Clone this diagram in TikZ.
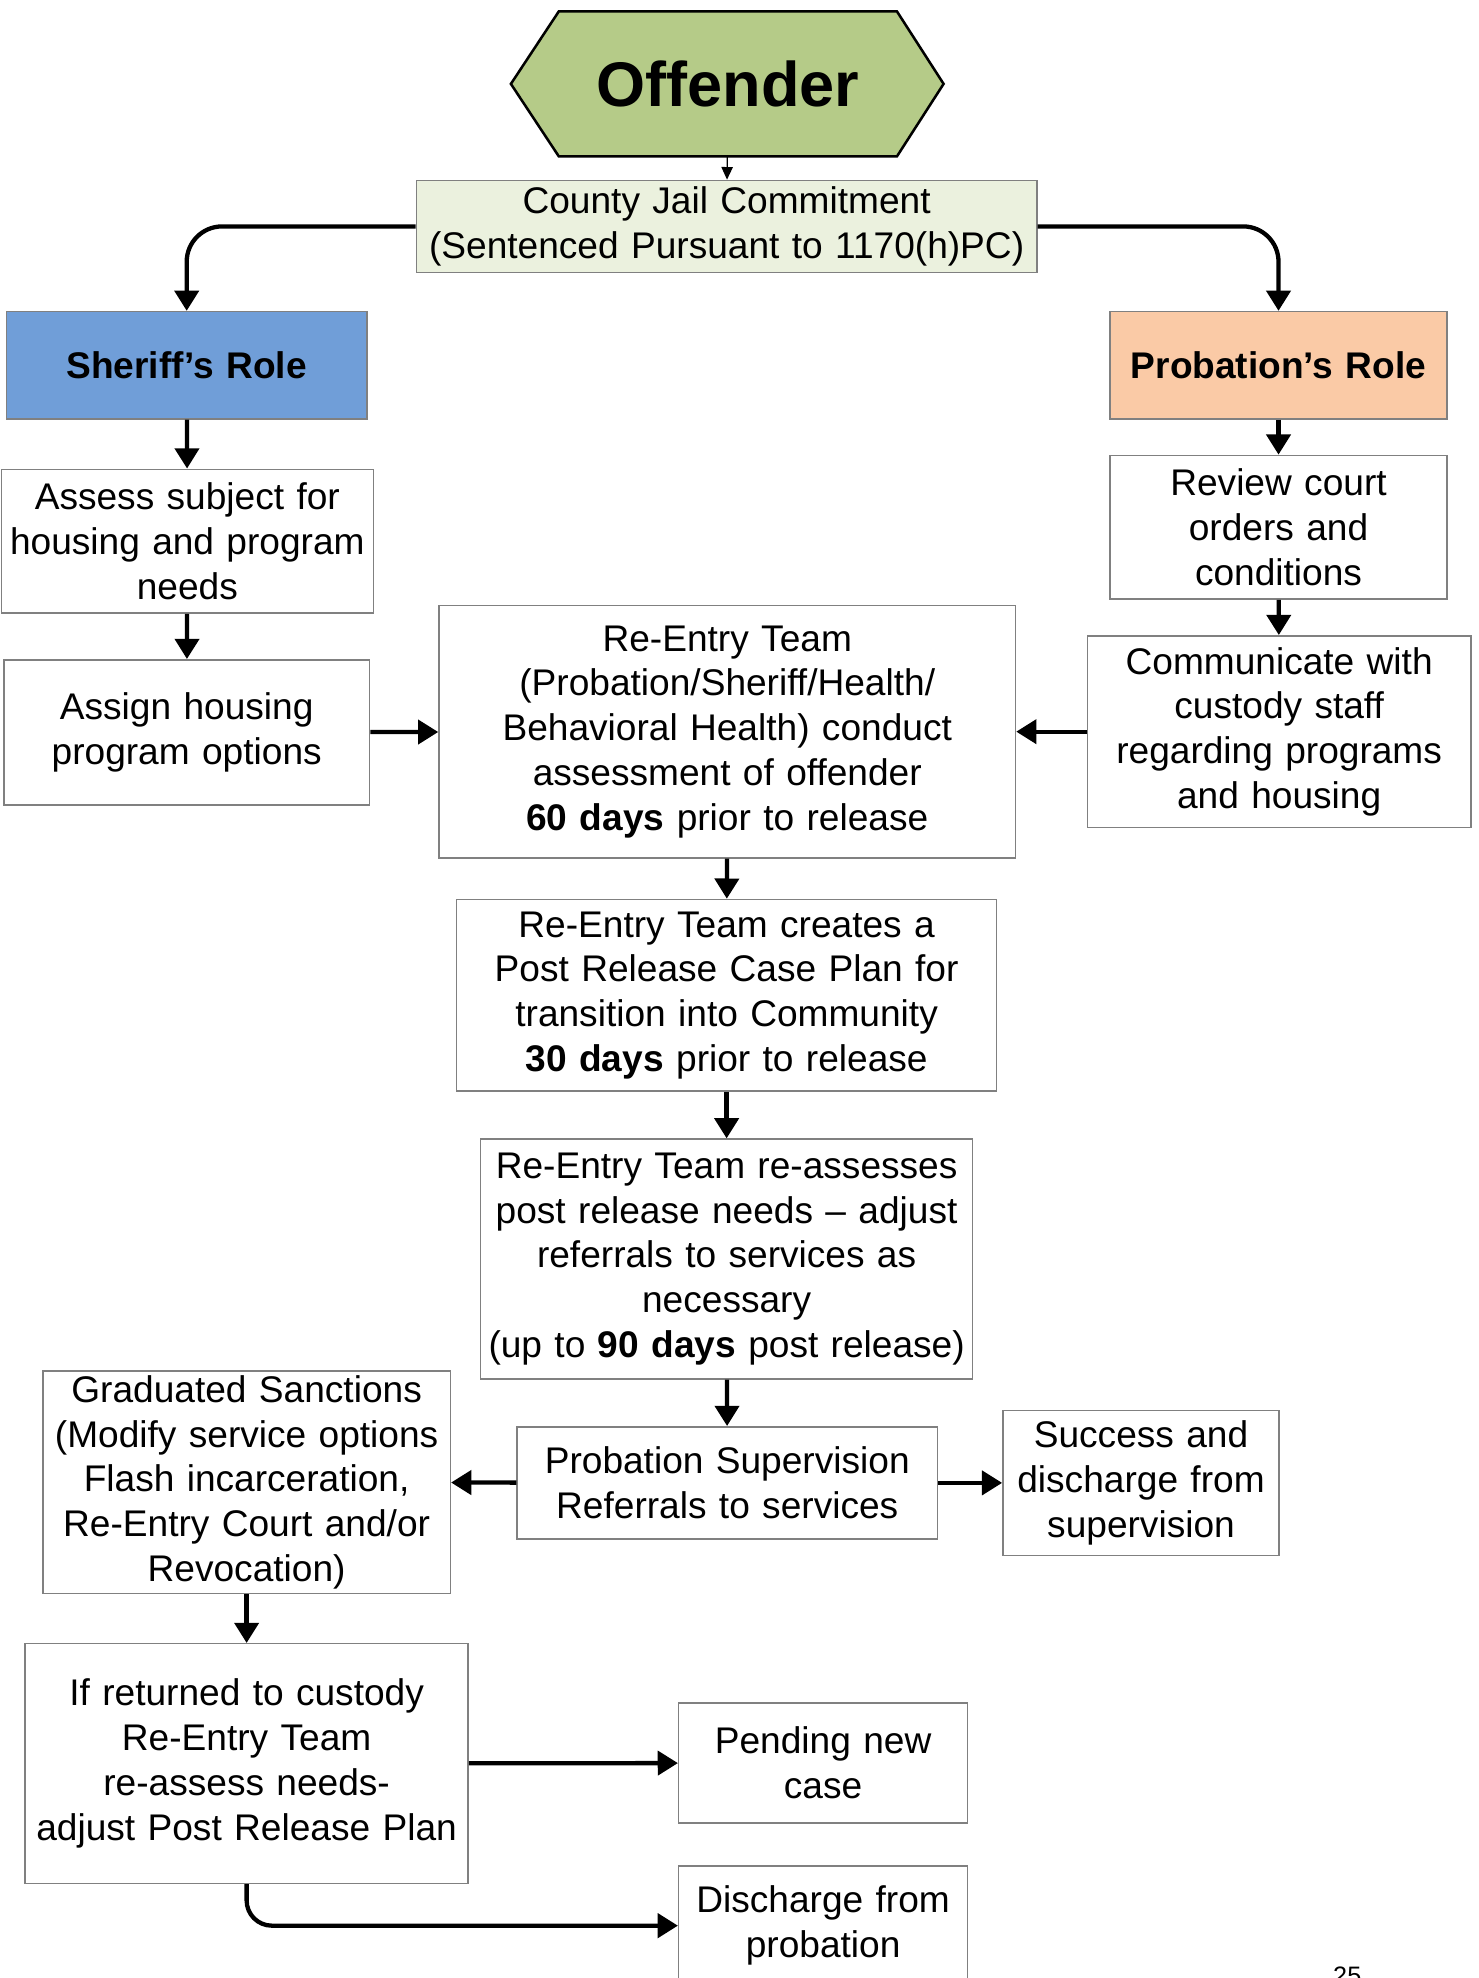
\documentclass[tikz,border=0pt]{standalone}
\usepackage{fontspec}
\setmainfont{Liberation Sans}
\usetikzlibrary{arrows.meta}
\definecolor{offgreen}{RGB}{181,203,136}
\definecolor{cjgreen}{RGB}{235,241,222}
\definecolor{shblue}{RGB}{112,158,216}
\definecolor{prpeach}{RGB}{250,202,166}
\definecolor{boxgray}{RGB}{128,128,128}
\begin{document}
\begin{tikzpicture}
  [x=1pt,y=-1pt,
   every node/.style={font=\fontsize{29.4}{35.5}\selectfont},
   box/.style={draw=boxgray,line width=1.2pt,align=center,inner sep=0pt},
   head/.style={font=\fontsize{29.4}{35.5}\selectfont\bfseries},
   flow/.style={line width=3.4pt,-{Triangle[width=19pt,length=16pt]}}]
\useasboundingbox (0,0) rectangle (1172,1568);
\clip (0,0) rectangle (1172,1568);

% top
\filldraw[fill=offgreen,line width=2pt] (443,9) -- (711,9) -- (748,66.5) -- (711,124) -- (443,124) -- (405,66.5) -- cycle;
\node (off) [minimum width=268pt,minimum height=115pt,inner sep=0pt,font=\fontsize{50}{60}\selectfont\bfseries] at (577,66.5) {Offender};
\node (cj) [box,fill=cjgreen,text width=492pt,minimum height=73pt] at (576,179.5) {County Jail Commitment\\(Sentenced Pursuant to 1170(h)PC)};

% sheriff side
\node (sh) [box,head,fill=shblue,text width=286pt,minimum height=85pt] at (148,289.5) {Sheriff’s Role};
\node (as) [box,text width=295pt,minimum height=114pt] at (148.5,429) {Assess subject for\\housing and program\\needs};
\node (ag) [box,text width=290pt,minimum height=115pt] at (148,580.5) {Assign housing\\program options};

% probation side
\node (pr) [box,head,fill=prpeach,text width=267pt,minimum height=85pt] at (1013.5,289.5) {Probation’s Role};
\node (rv) [box,text width=267pt,minimum height=114pt] at (1013.5,418) {Review court\\orders and\\conditions};
\node (cm) [box,text width=304pt,minimum height=152pt] at (1014,580) {Communicate with\\custody staff\\regarding programs\\and housing};

% re-entry
\node (re) [box,text width=457pt,minimum height=200pt] at (576.5,580) {Re-Entry Team\\(Probation/Sheriff/Health/\\Behavioral Health) conduct\\assessment of offender\\\textbf{60 days} prior to release};
\node (pl) [box,text width=428pt,minimum height=152pt] at (576,789) {Re-Entry Team creates a\\Post Release Case Plan for\\transition into Community\\\textbf{30 days} prior to release};
\node (ra) [box,text width=390pt,minimum height=190pt] at (576,998) {Re-Entry Team re-assesses\\post release needs -- adjust\\referrals to services as\\necessary\\(up to \textbf{90 days} post release)};
\node (ps) [box,text width=333pt,minimum height=89pt] at (576.5,1175.5) {Probation Supervision\\Referrals to services};
\node (gs) [box,text width=323pt,minimum height=176pt] at (195.5,1175) {Graduated Sanctions\\(Modify service options\\Flash incarceration,\\Re-Entry Court and/or\\Revocation)};
\node (su) [box,text width=219pt,minimum height=115pt] at (904.5,1175.5) {Success and\\discharge from\\supervision};
\node (rt) [box,text width=351pt,minimum height=190pt] at (195.5,1398) {If returned to custody\\Re-Entry Team\\re-assess needs-\\adjust Post Release Plan};
\node (pn) [box,text width=229pt,minimum height=95pt] at (652.5,1397.5) {Pending new\\case};
\node (dc) [box,text width=229pt,minimum height=95pt] at (652.5,1526.5) {Discharge from\\probation};
\node (pg) [font=\fontsize{20}{24}\selectfont] at (1068,1566) {25};

\draw[line width=1pt,-{Triangle[width=9pt,length=10pt]}] (off) -- (cj);
\draw[flow,rounded corners=28pt] (cj.west) -| (sh.north);
\draw[flow,rounded corners=28pt] (cj.east) -| (pr.north);
\foreach \from/\to in {sh/as,as/ag,pr/rv,rv/cm,ag/re,cm/re,re/pl,pl/ra,ra/ps,ps/gs,ps/su,gs/rt,rt/pn}
  \draw[flow] (\from) -- (\to);
\draw[flow,rounded corners=20pt] (rt.south) |- (dc.west);
\end{tikzpicture}
\end{document}
